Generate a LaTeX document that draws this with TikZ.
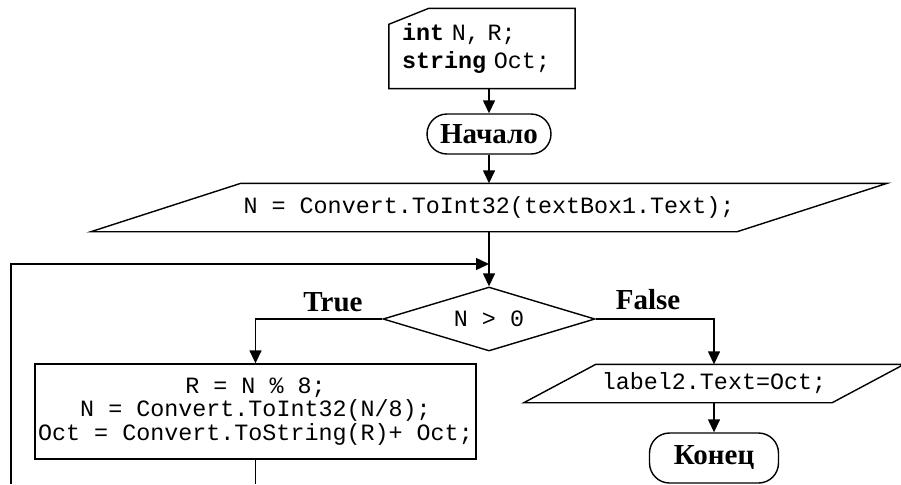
\documentclass[tikz,border=0pt]{standalone}
\usepackage{fontspec}
\setmainfont{Liberation Serif}
\setmonofont{Liberation Mono}
\usepackage{tikz}
\usetikzlibrary{arrows.meta,positioning,calc,shapes.geometric}

\begin{document}
\begin{tikzpicture}[x=0.02cm, y=-0.02cm, line width=0.8pt,
    code/.style={font=\fontsize{13.3}{13.6}\selectfont\ttfamily},
    caption/.style={font=\fontsize{16.5}{18}\selectfont\bfseries},
    term/.style={draw, rounded corners=0.4cm, caption, inner sep=0pt},
    plainbox/.style={draw, code, inner sep=0pt, align=center},
    iobox/.style={code, inner sep=0pt},
    decision/.style={draw, diamond, code, inner sep=0pt, aspect=3.3,
        minimum width=4.24cm, minimum height=1.28cm},
    flow/.style={-{Triangle[length=0.26cm,width=0.24cm]}}]
    \useasboundingbox (0,0) rectangle (901,484);

    % Declarations
    \node[code, text width=3.2cm, inner xsep=0.25cm, inner ysep=0pt,
        minimum height=1.58cm, align=left] (decl) at (482,48.5)
        {\textbf{int} N, R;\\[2pt] \textbf{string} Oct;};
    \draw ([yshift=-0.32cm]decl.north west) -- ([xshift=0.8cm]decl.north west)
        -- (decl.north east) -- (decl.south east) -- (decl.south west) -- cycle;

    % Start
    \node[term, minimum width=2.48cm, minimum height=0.8cm] (start) at (489,134) {Начало};
    \draw[flow] (decl.south -| start.north) -- (start.north);

    % Input
    \node[iobox, minimum width=12.9cm, minimum height=0.94cm] (input) at (489,207.5)
        {N = Convert.ToInt32(textBox1.Text);};
    \draw ($(input.north west)+(1.5cm,0)$) -- ($(input.north east)+(1.5cm,0)$)
        -- ($(input.south east)-(1.5cm,0)$) -- ($(input.south west)-(1.5cm,0)$) -- cycle;
    \draw[flow] (start) -- (input);

    % Loop condition
    \coordinate (join) at (489,264);
    \node[decision] (dec) at (489,319) {N > 0};
    \draw (input.south) -- (join);
    \draw[flow] (join) -- (dec.north);

    % True branch
    \node[caption] (yes) at (333,302) {True};
    \node[plainbox, minimum width=8.82cm, minimum height=1.9cm] (body) at (255.5,411.5)
        {R = N \% 8;\\N = Convert.ToInt32(N/8);\\Oct = Convert.ToString(R)+ Oct;};
    \draw[flow] (dec.west) -| (body.north);

    % Back to the condition
    \coordinate (back) at (255.5,484);
    \coordinate (loop) at (11,484);
    \draw (body.south) -- (back);
    \draw[flow] (loop) |- (join);

    % False branch
    \node[caption] (no) at (648,300) {False};
    \node[iobox, minimum width=6.14cm, minimum height=0.74cm] (output) at (714,383.5)
        {label2.Text=Oct;};
    \draw ($(output.north west)+(0.72cm,0)$) -- ($(output.north east)+(0.72cm,0)$)
        -- ($(output.south east)-(0.72cm,0)$) -- ($(output.south west)-(0.72cm,0)$) -- cycle;
    \draw[flow] (dec.east) -| (output.north);

    % End
    \node[term, minimum width=2.58cm, minimum height=1.0cm] (stop) at (714,458) {Конец};
    \draw[flow] (output) -- (stop);
\end{tikzpicture}
\end{document}
